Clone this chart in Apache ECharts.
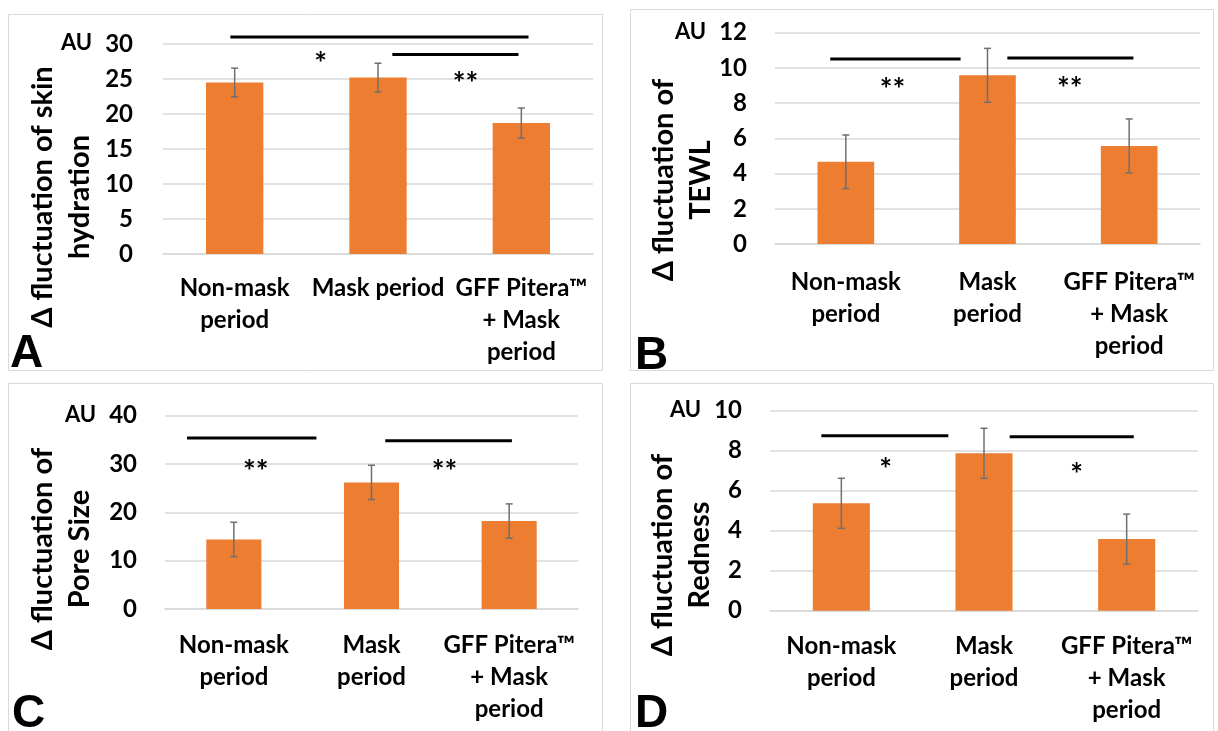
<!DOCTYPE html>
<html>
<head>
<meta charset="utf-8">
<script src="https://cdn.jsdelivr.net/npm/echarts@6/dist/echarts.min.js"></script>
<style>
  html, body { margin: 0; padding: 0; background: #fff; }
  #main { width: 1218px; height: 731px; }
</style>
</head>
<body>
<div id="main"></div>
<script>
const chart = echarts.init(document.querySelector('#main'));

// category labels (line breaks as in the figure)
const labelsA = ['Non-mask\nperiod', 'Mask period', 'GFF Pitera™\n+ Mask\nperiod'];
const labelsBCD = ['Non-mask\nperiod', 'Mask\nperiod', 'GFF Pitera™\n+ Mask\nperiod'];

// mean values and error (SD) per panel
const hydration = [24.5, 25.2, 18.7];
const hydrationErr = [2.05, 2.05, 2.15];
const tewl = [4.67, 9.58, 5.57];
const tewlErr = [1.52, 1.53, 1.53];
const pore = [14.4, 26.2, 18.2];
const poreErr = [3.55, 3.55, 3.55];
const redness = [5.37, 7.87, 3.58];
const rednessErr = [1.25, 1.25, 1.25];

// significance brackets: [from category, to category, value]
const bracketsA = [[-0.03, 2.05, 31.0], [1.10, 1.98, 28.5]];
const bracketsB = [[-0.11, 0.81, 10.5], [1.14, 2.03, 10.57]];
const bracketsC = [[-0.34, 0.60, 35.4], [1.10, 2.02, 34.8]];
const bracketsD = [[-0.14, 0.75, 8.75], [1.18, 2.05, 8.7]];
// stars: [category position, value, text]
const starsA = [[0.60, 28.1, '*'], [1.61, 25.3, '**']];
const starsB = [[0.33, 9.15, '**'], [1.58, 9.2, '**']];
const starsC = [[0.16, 29.8, '**'], [1.53, 29.8, '**']];
const starsD = [[0.31, 7.39, '*'], [1.65, 7.14, '*']];

const FONT = 'Lato';
const ORANGE = '#ed7d31';
const GRIDC = '#d9d9d9';

const panels = [
    { grid: { left: 163, top: 44, width: 430, height: 210 }, labels: labelsA, values: hydration, errs: hydrationErr,
      max: 30, step: 5, xMargin: 18, yMargin: 30, brackets: bracketsA, stars: starsA,
      name: 'Δ fluctuation of skin\nhydration', nameAt: [61.5, 197], letter: 'A', letterAt: [10, 331], box: [8, 14, 594, 356] },
    { grid: { left: 775, top: 32.7, width: 425, height: 211.3 }, labels: labelsBCD, values: tewl, errs: tewlErr,
      max: 12, step: 2, xMargin: 22, yMargin: 28, brackets: bracketsB, stars: starsB,
      name: 'Δ fluctuation of\nTEWL', nameAt: [682, 180], letter: 'B', letterAt: [635, 333], box: [630, 9, 583, 361] },
    { grid: { left: 165, top: 415.7, width: 413, height: 193.3 }, labels: labelsBCD, values: pore, errs: poreErr,
      max: 40, step: 10, xMargin: 20, yMargin: 28, brackets: bracketsC, stars: starsC,
      name: 'Δ fluctuation of\nPore Size', nameAt: [61.5, 549], letter: 'C', letterAt: [12, 691], box: [8, 383, 594, 360] },
    { grid: { left: 770, top: 410.7, width: 428, height: 200 }, labels: labelsBCD, values: redness, errs: rednessErr,
      max: 10, step: 2, xMargin: 20, yMargin: 28, brackets: bracketsD, stars: starsD,
      name: 'Δ fluctuation of\nRedness', nameAt: [681.5, 555], letter: 'D', letterAt: [635, 691], box: [630, 383, 583, 360] }
];

const grids = [], xAxes = [], yAxes = [], series = [], graphics = [];

panels.forEach((p, k) => {
    grids.push(p.grid);
    // category axis for bars and labels
    xAxes.push({
        type: 'category', gridIndex: k, data: p.labels,
        axisLine: { lineStyle: { color: GRIDC, width: 1.5 } },
        axisTick: { show: false },
        axisLabel: { interval: 0, margin: p.xMargin, color: '#000', fontFamily: FONT, fontWeight: 'bold', fontSize: 24, lineHeight: 32 }
    });
    // hidden value axis with same mapping, for annotations
    xAxes.push({ type: 'value', gridIndex: k, min: -0.5, max: 2.5, show: false });
    yAxes.push({
        type: 'value', gridIndex: k, min: 0, max: p.max, interval: p.step,
        axisLine: { show: false }, axisTick: { show: false },
        splitLine: { lineStyle: { color: GRIDC, width: 1.5 } },
        axisLabel: {
            margin: p.yMargin, color: '#000', fontFamily: FONT, fontWeight: 'bold', fontSize: 24,
            formatter: v => v === p.max ? '{au|AU}' + v : String(v),
            rich: { au: { fontFamily: FONT, fontWeight: 'bold', fontSize: 22, color: '#000', padding: [0, 13, 2, 0] } }
        }
    });

    series.push({
        type: 'bar', xAxisIndex: 2 * k, yAxisIndex: k, data: p.values, barWidth: '40%',
        itemStyle: { color: ORANGE }
    });
    series.push({
        type: 'custom', xAxisIndex: 2 * k, yAxisIndex: k, z: 5,
        data: p.values.map((v, i) => [i, v, p.errs[i]]),
        renderItem: (params, api) => {
            const i = api.value(0), v = api.value(1), e = api.value(2);
            const hi = api.coord([i, v + e]), lo = api.coord([i, v - e]);
            const st = { stroke: '#6f6f6f', lineWidth: 1.5 };
            return {
                type: 'group', children: [
                    { type: 'line', shape: { x1: hi[0], y1: hi[1], x2: lo[0], y2: lo[1] }, style: st },
                    { type: 'line', shape: { x1: hi[0] - 3.5, y1: hi[1], x2: hi[0] + 3.5, y2: hi[1] }, style: st },
                    { type: 'line', shape: { x1: lo[0] - 3.5, y1: lo[1], x2: lo[0] + 3.5, y2: lo[1] }, style: st }
                ]
            };
        }
    });
    series.push({
        type: 'custom', xAxisIndex: 2 * k + 1, yAxisIndex: k, clip: false, z: 6,
        data: p.brackets,
        renderItem: (params, api) => {
            const a = api.coord([api.value(0), api.value(2)]);
            const b = api.coord([api.value(1), api.value(2)]);
            return { type: 'line', shape: { x1: a[0], y1: a[1], x2: b[0], y2: b[1] }, style: { stroke: '#000', lineWidth: 3 } };
        }
    });
    series.push({
        type: 'custom', xAxisIndex: 2 * k + 1, yAxisIndex: k, clip: false, z: 6,
        data: p.stars.map(s => [s[0], s[1]]),
        renderItem: (params, api) => {
            const c = api.coord([api.value(0), api.value(1)]);
            return {
                type: 'text', x: c[0], y: c[1] + 7,
                style: { text: p.stars[params.dataIndex][2], fill: '#000', font: 'bold 30px ' + FONT, textAlign: 'center', textVerticalAlign: 'middle' }
            };
        }
    });

    graphics.push({
        type: 'rect', shape: { x: p.box[0] + 0.5, y: p.box[1] + 0.5, width: p.box[2], height: p.box[3] },
        style: { fill: 'none', stroke: GRIDC, lineWidth: 1 }, z: -1
    });
    graphics.push({
        type: 'text', x: p.nameAt[0], y: p.nameAt[1], rotation: Math.PI / 2,
        style: { text: p.name, fill: '#000', font: 'bold 29px ' + FONT, textAlign: 'center', textVerticalAlign: 'middle', lineHeight: 37 }
    });
    graphics.push({
        type: 'text', x: p.letterAt[0], y: p.letterAt[1],
        style: { text: p.letter, fill: '#000', font: 'bold 46px "Liberation Sans"', textAlign: 'left', textVerticalAlign: 'top' }
    });
});

const option = {
    animation: false,
    grid: grids,
    xAxis: xAxes,
    yAxis: yAxes,
    series: series,
    graphic: graphics
};

chart.setOption(option);
</script>
</body>
</html>
